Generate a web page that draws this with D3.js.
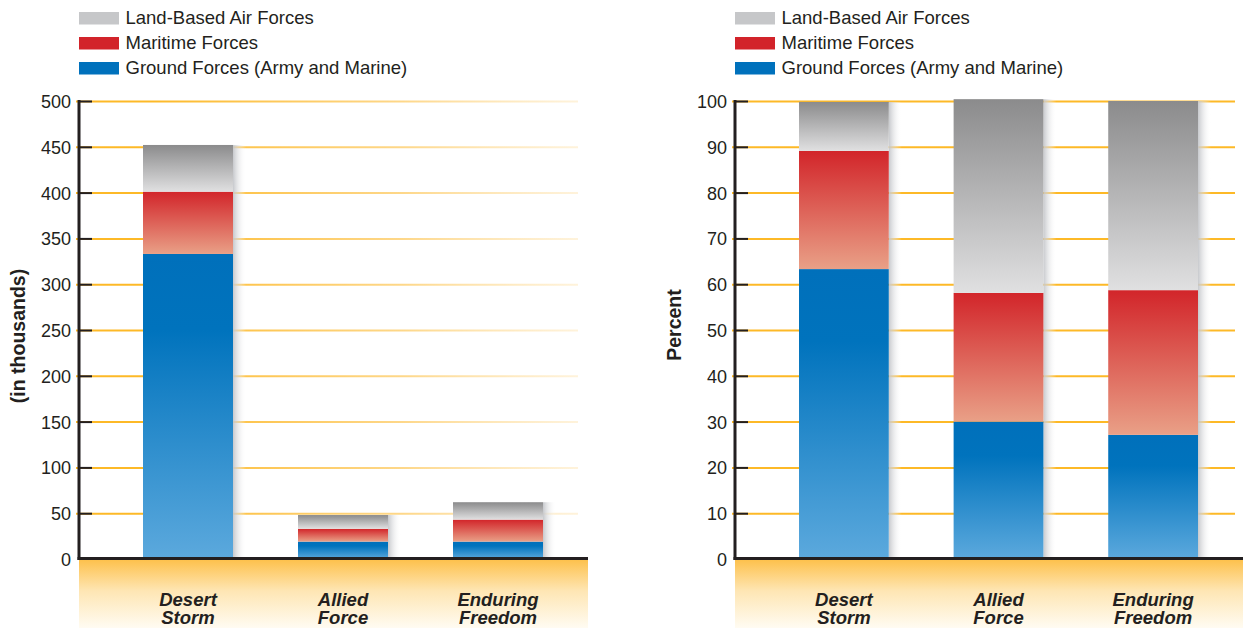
<!DOCTYPE html>
<html lang="en">
<head>
    <meta charset="UTF-8">
    <title>Forces by Operation</title>
    <script type="text/javascript" src="https://cdn.jsdelivr.net/npm/d3@7"></script>
    <style>
        body { margin: 0; background: #fff; }
        text { font-family: "Liberation Sans", Arial, Helvetica, sans-serif; fill: #231f20; }
    </style>
</head>
<body>
<script type="text/javascript">
    var w = 1243;
    var h = 628;

    // data
    var categories = ["Desert Storm", "Allied Force", "Enduring Freedom"];
    var categoryLines = [["Desert", "Storm"], ["Allied", "Force"], ["Enduring", "Freedom"]];
    var seriesKeys = ["ground", "maritime", "air"];
    var legendNames = ["Land-Based Air Forces", "Maritime Forces", "Ground Forces (Army and Marine)"];

    var groundK = [333, 19, 19];        // thousands
    var maritimeK = [68, 14, 24];
    var airK = [51, 15, 19];

    var groundPct = [63.3, 30, 27.1];   // percent
    var maritimePct = [25.8, 28.1, 31.6];
    var airPct = [10.7, 42.3, 41.3];

    var ticksK = [0, 50, 100, 150, 200, 250, 300, 350, 400, 450, 500];
    var ticksPct = [0, 10, 20, 30, 40, 50, 60, 70, 80, 90, 100];

    var svg = d3.select("body")
        .append("svg")
        .attr("width", w)
        .attr("height", h);

    var defs = svg.append("defs");

    // bar gradients, dark on top, light at the bottom
    function vGrad(id, stops) {
        var g = defs.append("linearGradient").attr("id", id)
            .attr("x1", 0).attr("y1", 0).attr("x2", 0).attr("y2", 1);
        stops.forEach(function (s) {
            g.append("stop").attr("offset", s[0]).attr("stop-color", s[1]);
        });
    }
    vGrad("g-air", [[0, "#8b8b8c"], [1, "#e0e0e1"]]);
    vGrad("g-maritime", [[0, "#d2252a"], [1, "#e9a087"]]);
    vGrad("g-ground", [[0, "#0070bb"], [0.25, "#0073bd"], [1, "#5ca9dd"]]);
    vGrad("g-floor", [[0, "#fdc14d"], [0.45, "#fee6b4"], [1, "#fffcf4"]]);

    var shadow = defs.append("linearGradient").attr("id", "g-shadow")
        .attr("x1", 0).attr("y1", 0).attr("x2", 1).attr("y2", 0);
    shadow.append("stop").attr("offset", 0).attr("stop-color", "#c4c6ca").attr("stop-opacity", 0.95);
    shadow.append("stop").attr("offset", 1).attr("stop-color", "#ffffff").attr("stop-opacity", 0);

    var fill = {air: "url(#g-air)", maritime: "url(#g-maritime)", ground: "url(#g-ground)"};
    var swatch = ["#c6c7c9", "#d2232a", "#0071bc"];

    var panels = [
        {id: "k", ground: groundK, maritime: maritimeK, air: airK, max: 500, ticks: ticksK,
            axisX: 79, right: 588, gridEnd: 578, bars: [143, 543],
            title: "(in thousands)", titleX: 25, titleY: 336},
        {id: "p", ground: groundPct, maritime: maritimePct, air: airPct, max: 100, ticks: ticksPct,
            axisX: 735, right: 1243, gridEnd: 1235, bars: [799, 1198],
            title: "Percent", titleX: 681, titleY: 325}
    ];

    panels.forEach(function (p) {
        var g = svg.append("g");

        var y = d3.scaleLinear().domain([0, p.max]).range([559, 101]);
        var x = d3.scaleBand().domain(categories).range(p.bars)
            .paddingInner(65 / 155).paddingOuter(0);

        // legend
        var leg = g.append("g").attr("transform", "translate(" + p.axisX + ",12)");
        legendNames.forEach(function (name, i) {
            leg.append("rect").attr("x", 0).attr("y", i * 25)
                .attr("width", 40).attr("height", 12.5).attr("fill", swatch[i]);
            leg.append("text").attr("x", 46.5).attr("y", i * 25 + 12.3)
                .attr("font-size", 18.5).text(name);
        });

        // fading orange gridlines
        var gg = defs.append("linearGradient").attr("id", "grid-" + p.id)
            .attr("gradientUnits", "userSpaceOnUse")
            .attr("x1", p.axisX - 3).attr("y1", 0).attr("x2", p.gridEnd).attr("y2", 0);
        gg.append("stop").attr("offset", 0).attr("stop-color", "#fdb927").attr("stop-opacity", 1);
        gg.append("stop").attr("offset", 0.5).attr("stop-color", "#fdc24a").attr("stop-opacity", 0.65);
        gg.append("stop").attr("offset", 0.85).attr("stop-color", "#fdd688").attr("stop-opacity", 0.3);
        gg.append("stop").attr("offset", 1).attr("stop-color", "#fde3b0").attr("stop-opacity", 0);

        var grid = g.append("g")
            .attr("transform", "translate(" + (p.axisX - 3) + ",0)")
            .call(d3.axisRight(y).tickValues(p.ticks.slice(1)).tickSize(p.gridEnd - p.axisX + 3).tickFormat(""));
        grid.select(".domain").remove();
        grid.selectAll(".tick line").attr("stroke", "url(#grid-" + p.id + ")").attr("stroke-width", 2);

        // stacked bars
        var rows = categories.map(function (c, i) {
            return {cat: c, ground: p.ground[i], maritime: p.maritime[i], air: p.air[i]};
        });
        var stacked = d3.stack().keys(seriesKeys)(rows);

        g.selectAll("rect.shadow")
            .data(rows)
            .enter()
            .append("rect")
            .attr("class", "shadow")
            .attr("x", function (d) { return x(d.cat) + x.bandwidth(); })
            .attr("y", function (d) { return y(d.ground + d.maritime + d.air); })
            .attr("width", 13)
            .attr("height", function (d) { return y(0) - y(d.ground + d.maritime + d.air); })
            .attr("fill", "url(#g-shadow)");

        g.selectAll("g.layer")
            .data(stacked)
            .enter()
            .append("g")
            .attr("class", "layer")
            .attr("fill", function (d) { return fill[d.key]; })
            .selectAll("rect")
            .data(function (d) { return d; })
            .enter()
            .append("rect")
            .attr("x", function (d) { return x(d.data.cat); })
            .attr("y", function (d) { return y(d[1]); })
            .attr("width", x.bandwidth())
            .attr("height", function (d) { return y(d[0]) - y(d[1]); });

        // floor under the baseline
        g.append("rect")
            .attr("x", p.axisX).attr("y", y(0) + 1)
            .attr("width", p.right - p.axisX).attr("height", h - y(0))
            .attr("fill", "url(#g-floor)");

        // axis with inward ticks
        var ax = g.append("g")
            .attr("transform", "translate(" + p.axisX + ",0)")
            .call(d3.axisLeft(y).tickValues(p.ticks).tickSizeInner(-13).tickSizeOuter(0).tickPadding(8));
        ax.select(".domain").attr("stroke", "#231f20").attr("stroke-width", 3)
            .attr("d", "M0," + (y(p.max) - 1) + "V" + (y(0) + 1));
        ax.selectAll(".tick line").attr("stroke", "#231f20").attr("stroke-width", 2);
        ax.selectAll(".tick").filter(function (d) { return d === 0; }).select("line").remove();
        ax.selectAll(".tick text").attr("font-size", 18).attr("fill", "#231f20")
            .style("font-family", "'Liberation Sans', Arial, Helvetica, sans-serif")
            .attr("dy", "0.36em");

        // baseline
        g.append("line")
            .attr("x1", p.axisX - 1.5).attr("x2", p.right)
            .attr("y1", y(0) - 0.5).attr("y2", y(0) - 0.5)
            .attr("stroke", "#231f20").attr("stroke-width", 3);

        // y title
        g.append("text")
            .attr("transform", "translate(" + p.titleX + "," + p.titleY + ") rotate(-90)")
            .attr("text-anchor", "middle")
            .attr("font-size", 19.5)
            .attr("font-weight", "bold")
            .text(p.title);

        // category labels
        var cl = g.selectAll("text.cat")
            .data(categories)
            .enter()
            .append("text")
            .attr("class", "cat")
            .attr("text-anchor", "middle")
            .attr("font-size", 18.5)
            .attr("font-weight", "bold")
            .attr("font-style", "italic");
        cl.append("tspan")
            .attr("x", function (d) { return x(d) + x.bandwidth() / 2; })
            .attr("y", 606)
            .text(function (d, i) { return categoryLines[i][0]; });
        cl.append("tspan")
            .attr("x", function (d) { return x(d) + x.bandwidth() / 2; })
            .attr("y", 624)
            .text(function (d, i) { return categoryLines[i][1]; });
    });
</script>
</body>
</html>
